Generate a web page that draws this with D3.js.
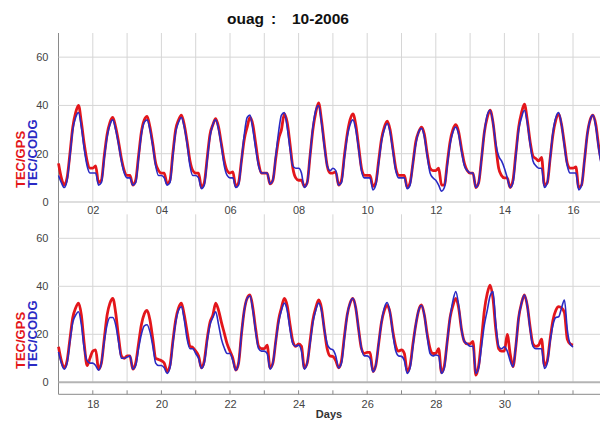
<!DOCTYPE html>
<html><head><meta charset="utf-8">
<script src="https://cdn.jsdelivr.net/npm/d3@7"></script>
<style>
html,body{margin:0;padding:0;background:#fff;}
svg{display:block;font-family:"Liberation Sans",Arial,sans-serif;}
</style></head>
<body><svg id="c" width="600" height="422"></svg>
<script>
// ---- data ----
const title = ["ouag", ":", "10-2006"];
const days = d3.range(1, 32);
const hours = [0, 2, 4, 6, 8, 10, 12, 14, 16, 18, 20, 22, 24];
const topTicks = [2, 4, 6, 8, 10, 12, 14, 16];
const bottomTicks = [18, 20, 22, 24, 26, 28, 30];
const yTicks = [0, 20, 40, 60];
const seriesNames = ["TEC/GPS", "TEC/CODG"];
const tecGPS = [
  [16, 10, 7, 10, 20, 31, 37, 40, 33, 24, 17, 14],
  [14, 15, 8, 9, 19, 28, 33, 35, 31, 25, 18, 13],
  [11, 11, 7, 9, 19, 29, 34, 35.5, 31, 24, 16, 13],
  [12, 12, 7.5, 9, 20, 30, 34, 36, 32, 25, 17, 13],
  [12, 12, 6, 8, 18, 28, 32, 34.5, 31, 24, 17, 13],
  [12, 12.5, 6.5, 8, 17, 26, 31, 35, 32, 24, 16, 12],
  [12, 12, 7.5, 9, 18, 26, 30, 36.5, 33, 24, 14, 10],
  [9, 9, 6.5, 8, 19, 30, 37, 41, 34, 24, 15, 12],
  [12, 12.5, 7, 9, 19, 28, 34, 36.5, 32, 23, 14, 11],
  [11, 11, 6.5, 8, 17, 26, 31, 33.5, 30, 22, 14, 11],
  [11, 11, 6, 8, 16, 25, 29, 31, 28, 20, 14, 13],
  [13, 14, 7, 7, 16, 25, 30, 32, 29, 22, 16, 13],
  [12, 12, 6, 8, 18, 29, 35, 38, 33, 23, 14, 11],
  [10, 10, 6, 9, 20, 31, 37, 40.5, 34, 25, 19, 18],
  [17, 18.5, 7, 8, 18, 28, 34, 36.5, 32, 24, 16, 14],
  [14, 14.5, 6, 7, 17, 28, 34, 36, 32, 23, 17, 16],
  [14.8, 9, 6, 9, 18, 27, 31, 33, 28, 16, 7, 10],
  [13, 13.5, 5.5, 8, 18, 28, 33, 35, 29, 19, 11, 10],
  [11, 11, 5.5, 8, 16, 24, 28.5, 30, 26, 18, 10, 9.5],
  [9, 8, 4.5, 7, 17, 26, 31, 33, 28, 21, 15, 14.5],
  [13, 11, 6, 9, 18, 25, 28, 33, 30, 25, 20.5, 16],
  [13, 10, 5.1, 8, 20, 30, 35, 36.4, 31, 22, 15, 14],
  [14, 15.5, 6, 8, 17, 26, 31, 35, 32, 24, 17, 15],
  [16, 15, 6, 8, 17, 26, 31, 34.3, 31, 22, 14, 11],
  [10.7, 9, 6, 9, 19, 28, 33, 35, 31, 22, 14, 12],
  [12.5, 12.5, 4.5, 7, 16, 25, 30, 32, 29, 21, 15, 13],
  [13.5, 12, 4.4, 7, 16, 24, 30, 32.2, 28, 20, 14, 12],
  [12, 14, 4, 7, 17, 27, 32, 35, 31, 22, 17, 16],
  [16, 17, 3, 7, 18, 30, 37, 40.5, 35, 22, 14, 13],
  [13, 20, 12, 6.5, 15, 27, 33, 36.4, 32, 23, 16, 15],
  [15.5, 18, 7, 9, 18, 26, 30, 31.5, 31, 29, 18, 16, 15.5]
];
const tecCODG = [
  [11, 8, 6, 9, 19, 30, 35, 37, 31, 22, 15, 12],
  [12, 12, 7, 8, 18, 27, 32, 34, 30, 24, 17, 12],
  [10, 10, 7, 8, 18, 28, 33, 34, 30, 23, 15, 11],
  [11, 10, 7, 8, 19, 29, 33, 35, 31, 24, 15, 11],
  [11, 10, 5.5, 7, 17, 27, 32, 34, 30, 23, 15, 11],
  [10, 10, 6, 7, 17, 28, 35, 36, 30, 22, 15, 12],
  [12, 12, 7.5, 9, 19, 29, 36, 37, 31, 22, 15, 14],
  [14, 12, 6, 8, 19, 31, 38, 40, 33, 23, 15, 13],
  [14, 13, 7, 8, 18, 27, 32, 34, 30, 22, 13, 10],
  [10, 10, 5, 7, 16, 25, 30, 32.5, 29, 21, 13, 10],
  [10, 10, 5.5, 7, 16, 24, 29, 30.5, 27, 19, 12, 10],
  [9, 7, 4.5, 6, 15, 24, 29, 31, 28, 21, 15, 13],
  [12, 12, 6, 8, 18, 29, 36, 38, 33, 24, 19, 17],
  [14, 10, 6, 8, 19, 30, 35, 38, 33, 24, 17, 15],
  [14, 14, 6, 8, 18, 29, 35, 37, 32, 23, 15, 12],
  [12, 12, 5, 7, 17, 28, 34, 36, 31, 22, 15, 13],
  [12.7, 8, 5.5, 8, 17, 25, 28, 29.4, 24, 14, 9, 8],
  [8, 7, 5, 8, 17, 24, 27, 27, 24, 17, 10, 10],
  [10.5, 11, 5.5, 7, 14, 20, 23.5, 24, 21, 15, 8, 7],
  [7, 6, 3.7, 6, 16, 25, 30, 31.5, 26, 18, 14, 14],
  [12, 10, 5.8, 8, 17, 24, 27, 29.4, 24, 18, 14.3, 12],
  [12, 9, 5, 8, 20, 30, 35, 36, 30, 21, 14, 13],
  [13, 12, 5.5, 8, 17, 25, 30, 33, 30, 22, 16, 15],
  [15.5, 13, 5.5, 8, 16, 25, 30, 33, 30, 22, 16, 14],
  [13.5, 11, 6, 8, 18, 28, 33, 35, 31, 22, 14, 11],
  [11, 10, 4.4, 7, 16, 25, 31, 33.2, 29, 20, 13, 11],
  [10.8, 9, 3.7, 6, 15, 24, 30, 32, 28, 19, 12, 11],
  [11.4, 11, 3.7, 6, 17, 27, 34, 37.8, 32, 22, 17, 16],
  [15, 15, 3.7, 6, 15, 24, 30, 36, 37.8, 24, 15, 14],
  [14.8, 13, 9, 6.5, 15, 27, 33, 36.4, 32, 22, 15, 14],
  [14, 14, 5.8, 8, 17, 24, 27, 27.3, 31, 34.3, 22, 16, 14.7]
];

// ---- build ----
function flatten(rows) {
  const out = [];
  rows.forEach((row, i) => row.forEach((v, j) => out.push({t: days[i] + hours[j] / 24, v})));
  return out;
}
const gps = flatten(tecGPS), codg = flatten(tecCODG);

const svg = d3.select("#c");
const x0 = 58.5, pxDay = 34.3;
const panels = [
  {dom: [1, 17], ticks: topTicks, y: d3.scaleLinear().domain([0, 70]).range([202, 33]), labY: 188, zeroLine: false},
  {dom: [17, 33], ticks: bottomTicks, y: d3.scaleLinear().domain([-5, 70]).range([394.3, 214.3]), labY: 369, zeroLine: true}
];

// title
const tt = svg.append("text").attr("y", 24).attr("font-size", 15.5).attr("font-weight", "bold").attr("fill", "#111");
tt.append("tspan").attr("x", 227).text(title[0]);
tt.append("tspan").attr("x", 271).text(title[1]);
tt.append("tspan").attr("x", 292).text(title[2]);

// left axis line spanning both panels
svg.append("line").attr("x1", x0).attr("x2", x0).attr("y1", 33).attr("y2", 394.3).attr("stroke", "#8a8a8a").attr("stroke-width", 1);

panels.forEach((p, k) => {
  const x = d3.scaleLinear().domain(p.dom).range([x0, x0 + 16 * pxDay]);
  const y = p.y;
  const yTop = y.range()[1], yGridBottom = y(0);
  const g = svg.append("g");
  // vertical grid
  g.selectAll(".vg").data(d3.range(p.dom[0] + 1, p.dom[1])).join("line")
    .attr("x1", d => x(d)).attr("x2", d => x(d)).attr("y1", yTop).attr("y2", yGridBottom)
    .attr("stroke", "#d6d6d6").attr("stroke-width", 1);
  // horizontal grid
  g.selectAll(".hg").data(yTicks.filter(v => v > 0)).join("line")
    .attr("x1", x0).attr("x2", 600).attr("y1", d => y(d)).attr("y2", d => y(d))
    .attr("stroke", "#d6d6d6").attr("stroke-width", 1);
  // zero line
  g.append("line").attr("x1", x0).attr("x2", 600).attr("y1", y(0)).attr("y2", y(0))
    .attr("stroke", p.zeroLine ? "#b4b4b4" : "#bdbdbd").attr("stroke-width", p.zeroLine ? 2 : 1.2);

  // y axis ticks/labels
  const ya = d3.axisLeft(y).tickValues(yTicks).tickSize(0).tickPadding(10);
  const yg = svg.append("g").attr("transform", `translate(${x0},0)`).call(ya);
  yg.select(".domain").remove();
  yg.selectAll("text").attr("font-size", 11).attr("fill", "#444").attr("font-family", "Liberation Sans, Arial, sans-serif");

  // x axis
  const axisY = k === 0 ? 202 : 394.3;
  if (k === 1) {
    svg.append("line").attr("x1", x0).attr("x2", 600).attr("y1", axisY).attr("y2", axisY).attr("stroke", "#8a8a8a");
    svg.append("g").selectAll("line").data(d3.range(p.dom[0] + 1, p.dom[1])).join("line")
      .attr("x1", d => x(d)).attr("x2", d => x(d)).attr("y1", axisY - 4).attr("y2", axisY).attr("stroke", "#8a8a8a");
  }
  const xa = d3.axisBottom(x).tickValues(p.ticks).tickFormat(d3.format("02d")).tickSize(0).tickPadding(k === 0 ? 4 : 5.5);
  const xg = svg.append("g").attr("transform", `translate(0,${axisY})`).call(xa);
  xg.select(".domain").remove();
  xg.selectAll("text").attr("font-size", 11).attr("fill", "#444").attr("font-family", "Liberation Sans, Arial, sans-serif");

  // lines
  const inRange = d => d.t >= p.dom[0] && d.t <= p.dom[1];
  const line = d3.line().x(d => x(d.t)).y(d => y(d.v)).curve(d3.curveMonotoneX);
  svg.append("path").datum(gps.filter(inRange)).attr("d", line)
    .attr("fill", "none").attr("stroke", "#e3161b").attr("stroke-width", 2.8).attr("stroke-linejoin", "round");
  svg.append("path").datum(codg.filter(inRange)).attr("d", line)
    .attr("fill", "none").attr("stroke", "#2a2ac4").attr("stroke-width", 1.6).attr("stroke-linejoin", "round");

  // y labels
  svg.append("text").attr("transform", `translate(25,${p.labY}) rotate(-90)`)
    .attr("font-size", 13).attr("font-weight", "bold").attr("fill", "#e3161b").text(seriesNames[0]);
  svg.append("text").attr("transform", `translate(36.5,${p.labY}) rotate(-90)`)
    .attr("font-size", 13).attr("font-weight", "bold").attr("fill", "#2a2ac4").text(seriesNames[1]);
});

svg.append("text").attr("x", 329).attr("y", 418).attr("text-anchor", "middle")
  .attr("font-size", 11).attr("font-weight", "bold").attr("fill", "#333").text("Days");
</script>
</body></html>
